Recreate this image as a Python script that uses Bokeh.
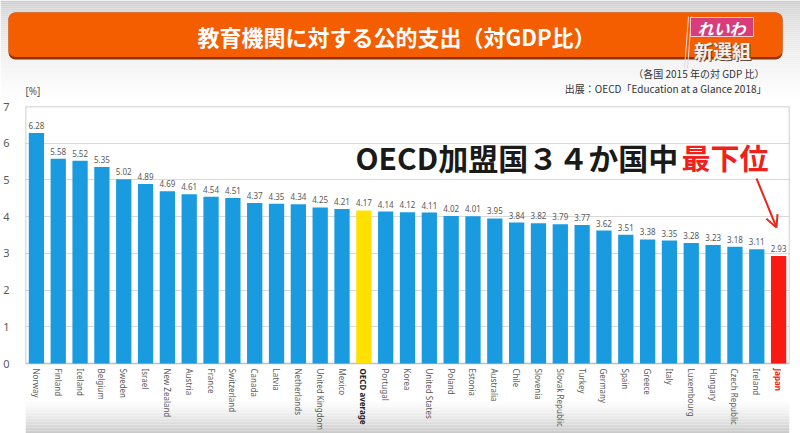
import math
import numpy as np
from bokeh.plotting import figure
from bokeh.models import (ColumnDataSource, FactorRange, Range1d, FixedTicker,
                          LabelSet, Label, Arrow, OpenHead)
from bokeh.layouts import column
from bokeh.embed import file_html
from bokeh.resources import INLINE
from bokeh.core.properties import value

# ---------------- data ----------------
countries = ["Norway", "Finland", "Iceland", "Belgium", "Sweden", "Israel",
             "New Zealand", "Austria", "France", "Switzerland", "Canada",
             "Latvia", "Netherlands", "United Kingdom", "Mexico", "OECD average",
             "Portugal", "Korea", "United States", "Poland", "Estonia",
             "Australia", "Chile", "Slovenia", "Slovak Republic", "Turkey",
             "Germany", "Spain", "Greece", "Italy", "Luxembourg", "Hungary",
             "Czech Republic", "Ireland", "Japan"]
values = [6.28, 5.58, 5.52, 5.35, 5.02, 4.89, 4.69, 4.61, 4.54, 4.51, 4.37,
          4.35, 4.34, 4.25, 4.21, 4.17, 4.14, 4.12, 4.11, 4.02, 4.01, 3.95,
          3.84, 3.82, 3.79, 3.77, 3.62, 3.51, 3.38, 3.35, 3.28, 3.23, 3.18,
          3.11, 2.93]
y_ticks = [0, 1, 2, 3, 4, 5, 6, 7]

title_text = "教育機関に対する公的支出（対GDP比）"
note_text = "（各国 2015 年の対 GDP 比）"
source_text = "出展：OECD「Education at a Glance 2018」"
headline_black = "OECD加盟国３４か国中"
headline_red = "最下位"

BLUE = "#1a9be0"
special_fill = {"OECD average": "#ffe100", "Japan": "#fa1a14"}
special_text = {"OECD average": "#1e1e1e", "Japan": "#fa1a14"}
bar_colors = [special_fill.get(c, BLUE) for c in countries]
name_colors = [special_text.get(c, "#595959") for c in countries]
name_styles = ["bold" if c in special_text else "normal" for c in countries]
bar_labels = [f"{v:.2f}" for v in values]

W = 800
JP = "Noto Sans CJK JP"


def gray_bands(n, lo, hi, g0, g1, gamma):
    edges = np.linspace(lo, hi, n + 1)
    cols = []
    for i in range(n):
        t = (i + 0.5) / n
        g = int(round(g0 + (g1 - g0) * (t ** gamma)))
        cols.append("#%02x%02x%02x" % (g, g, g))
    return edges, cols


# ---------------- header ----------------
HH = 100
hdr = figure(width=W, height=HH, x_range=Range1d(0, W), y_range=Range1d(HH, 0),
             x_axis_type=None, y_axis_type=None,
             output_backend="svg", toolbar_location=None, min_border=0)
hdr.frame_align = False
hdr.grid.visible = False
hdr.outline_line_color = None
hdr.background_fill_color = "white"
hdr.border_fill_color = "white"

edges, band_cols = gray_bands(50, 0, HH, 0xc8, 0xff, 0.55)
hdr.quad(left=0, right=W, top=edges[:-1], bottom=edges[1:], color=band_cols,
         line_color=None)

# title bar with darker bottom edge
hdr.quad(left=8, right=782, top=12, bottom=59, color="#8c3300", line_color=None,
         border_radius=7)
hdr.quad(left=8, right=782, top=12, bottom=56.5, color="#f55e00",
         line_color=None, border_radius=7)
hdr.text(x=[396], y=[35], text=[title_text], text_align="center",
         text_baseline="middle", text_color="white", text_font=value(JP),
         text_font_style="bold", text_font_size="22px")

# logo
hdr.segment(x0=[688, 691], y0=[16, 16], x1=[684, 687], y1=[68, 68],
            line_color="#e8d8d8", line_width=1)
hdr.quad(left=690, right=753, top=17, bottom=36, color="#d83c7a",
         line_color="#f3c6d8", line_width=1)
hdr.text(x=[721], y=[27], text=["れいわ"], text_align="center",
         text_baseline="middle", text_color="white", text_font=value(JP),
         text_font_style="bold italic", text_font_size="16px")
hdr.text(x=[723], y=[51], text=["新選組"], text_align="center",
         text_baseline="middle", text_color="#6a4a3a", text_font=value(JP),
         text_font_style="bold", text_font_size="19px")
hdr.text(x=[722], y=[50], text=["新選組"], text_align="center",
         text_baseline="middle", text_color="#f4f0ee", text_font=value(JP),
         text_font_style="bold", text_font_size="19px")

# source notes
hdr.text(x=[764], y=[73], text=[note_text], text_align="right",
         text_baseline="middle", text_color="#333333", text_font=value(JP),
         text_font_size="10px")
hdr.text(x=[766], y=[88], text=[source_text], text_align="right",
         text_baseline="middle", text_color="#333333", text_font=value(JP),
         text_font_size="10px")
hdr.text(x=[25], y=[90], text=["[%]"], text_align="left",
         text_baseline="middle", text_color="#595959",
         text_font=value("Noto Sans"), text_font_size="10px")

# ---------------- main chart ----------------
src = ColumnDataSource(dict(country=countries, value=values, color=bar_colors,
                            label=bar_labels, ncolor=name_colors,
                            nstyle=name_styles, zero=[0] * len(countries)))

# frame spans from y=7 down to the bottom of the page; the band below 0
# holds the category names
PX = 257 / 7.0
Y_LOW = -70 / PX
p = figure(width=W, height=333, x_range=FactorRange(*countries, range_padding=0),
           y_range=Range1d(Y_LOW, 7), output_backend="svg",
           toolbar_location=None, min_border_top=6, min_border_right=11,
           min_border_left=25, min_border_bottom=0)
p.frame_align = False
p.background_fill_color = "white"
p.border_fill_color = "white"
p.outline_line_color = None
p.xaxis.visible = False

# soft gray gradient at the bottom
nx = len(countries)
bedges, bcols = gray_bands(24, -34 / PX, Y_LOW, 0xff, 0xc8, 1.5)
p.quad(left=0, right=nx, top=bedges[:-1], bottom=bedges[1:], color=bcols,
       line_color=None)

p.ygrid.grid_line_color = "#d9d9d9"
p.ygrid.ticker = FixedTicker(ticks=y_ticks)
p.xgrid.grid_line_color = None

# plot frame
p.quad(left=0, right=nx, bottom=0, top=7, fill_color=None,
       line_color="#bfbfbf", line_width=1.5)

p.vbar(x="country", top="value", width=0.7, color="color", line_color=None,
       source=src)

p.add_layout(LabelSet(x="country", y="value", text="label", source=src,
                      y_offset=4, text_align="center", text_baseline="bottom",
                      text_font=value("Noto Sans"), text_font_size="8px",
                      text_color="#595959"))

# category names (rotated, read top to bottom)
p.text(x="country", y="zero", text="country", source=src, angle=-math.pi / 2,
       y_offset=5, text_align="left", text_baseline="middle",
       text_font=value("Noto Sans"), text_font_size="8px",
       text_color="ncolor", text_font_style="nstyle")

yax = p.yaxis[0]
yax.ticker = FixedTicker(ticks=y_ticks)
yax.major_tick_line_color = None
yax.minor_tick_line_color = None
yax.axis_line_color = None
yax.major_label_standoff = 10
yax.major_label_text_font = "Noto Sans"
yax.major_label_text_font_size = "11px"
yax.major_label_text_color = "#595959"

# headline annotation (screen units relative to the frame)
p.add_layout(Label(x=330, y=277, x_units="screen", y_units="screen",
                   text=headline_black, text_align="left",
                   text_baseline="middle", text_font=JP,
                   text_font_style="bold", text_font_size="30px",
                   text_color="#1a1a1a"))
p.add_layout(Label(x=656, y=277, x_units="screen", y_units="screen",
                   text=headline_red, text_align="left",
                   text_baseline="middle", text_font=JP,
                   text_font_style="bold", text_font_size="29px",
                   text_color="#f0201a"))
p.add_layout(Arrow(x_start=731, y_start=255, x_end=751, y_end=206,
                   start_units="screen", end_units="screen",
                   line_color="#e8281e", line_width=2,
                   end=OpenHead(size=12, line_color="#e8281e", line_width=2)))

layout = column(hdr, p, spacing=0)
open("out.html", "w").write(file_html(layout, INLINE))
